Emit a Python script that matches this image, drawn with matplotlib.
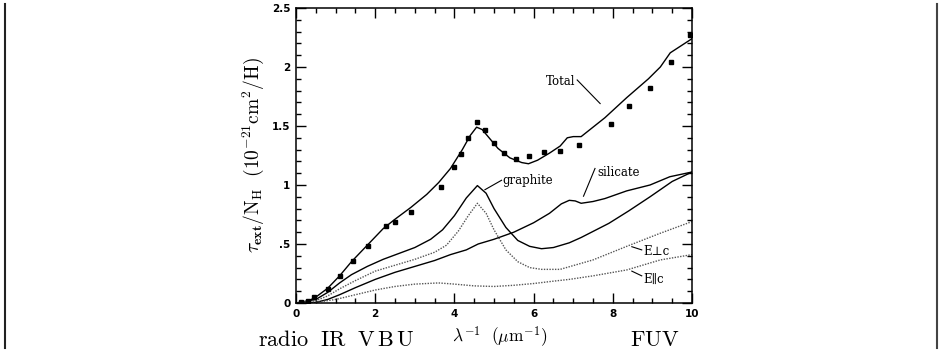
import matplotlib
matplotlib.use("Agg")
import matplotlib.pyplot as plt
from matplotlib.lines import Line2D
from matplotlib.ticker import MultipleLocator, FixedLocator, FixedFormatter

plt.rcParams['mathtext.fontset'] = 'cm'

# observed extinction (squares)
obs_x = [0.12, 0.29, 0.45, 0.80, 1.11, 1.43, 1.82, 2.27, 2.50, 2.91, 3.65,
         4.00, 4.17, 4.35, 4.57, 4.76, 5.00, 5.26, 5.56, 5.88, 6.25, 6.67,
         7.14, 7.95, 8.40, 8.94, 9.46, 9.95]
obs_y = [0.005, 0.02, 0.05, 0.12, 0.23, 0.36, 0.48, 0.65, 0.69, 0.77, 0.98,
         1.155, 1.26, 1.40, 1.53, 1.47, 1.36, 1.27, 1.22, 1.245, 1.28, 1.29,
         1.34, 1.52, 1.67, 1.82, 2.04, 2.27]

# model curves
total_x = [0, 0.3, 0.5, 0.8, 1.1, 1.4, 1.8, 2.2, 2.5, 2.9, 3.3, 3.6, 3.9, 4.2,
           4.4, 4.56, 4.7, 4.9, 5.1, 5.4, 5.7, 5.87, 6.1, 6.4, 6.67, 6.85, 7.0,
           7.2, 7.5, 7.8, 8.35, 8.9, 9.2, 9.45, 10.0]
total_y = [0, 0.015, 0.05, 0.125, 0.23, 0.35, 0.49, 0.63, 0.71, 0.81, 0.92,
           1.02, 1.14, 1.30, 1.42, 1.49, 1.47, 1.39, 1.31, 1.23, 1.19, 1.18,
           1.21, 1.27, 1.33, 1.40, 1.41, 1.41, 1.49, 1.57, 1.74, 1.90, 2.00,
           2.12, 2.24]

graph_x = [0, 0.5, 0.8, 1.1, 1.4, 1.8, 2.2, 2.6, 3.0, 3.4, 3.7, 4.0, 4.3,
           4.58, 4.8, 5.0, 5.3, 5.6, 5.9, 6.2, 6.5, 6.9, 7.2, 7.9, 8.4, 8.94,
           9.5, 10.0]
graph_y = [0, 0.03, 0.09, 0.17, 0.24, 0.31, 0.37, 0.42, 0.47, 0.54, 0.62,
           0.74, 0.89, 0.995, 0.93, 0.80, 0.64, 0.53, 0.48, 0.46, 0.47, 0.51,
           0.555, 0.675, 0.78, 0.90, 1.03, 1.11]

sil_x = [0, 0.5, 0.8, 1.1, 1.5, 2.0, 2.5, 3.0, 3.5, 3.9, 4.3, 4.6, 5.0, 5.5,
         6.0, 6.4, 6.7, 6.9, 7.05, 7.2, 7.5, 7.8, 8.35, 8.94, 9.44, 10.0]
sil_y = [0, 0.005, 0.03, 0.07, 0.13, 0.20, 0.26, 0.31, 0.36, 0.41, 0.45, 0.50,
         0.54, 0.60, 0.68, 0.76, 0.84, 0.87, 0.865, 0.845, 0.86, 0.885, 0.95,
         1.00, 1.07, 1.11]

perp_x = [0, 0.5, 0.8, 1.1, 1.5, 2.0, 2.5, 3.0, 3.5, 3.8, 4.1, 4.35, 4.58,
          4.8, 5.0, 5.3, 5.6, 5.9, 6.2, 6.67, 7.5, 8.35, 9.19, 10.0]
perp_y = [0, 0.02, 0.06, 0.12, 0.19, 0.27, 0.32, 0.37, 0.43, 0.49, 0.61, 0.74,
          0.845, 0.76, 0.62, 0.45, 0.35, 0.30, 0.285, 0.285, 0.365, 0.48,
          0.59, 0.69]

par_x = [0, 0.5, 1.0, 1.5, 2.0, 2.5, 3.0, 3.6, 4.0, 4.5, 5.0, 5.5, 6.0, 6.5,
         6.9, 7.5, 8.35, 9.2, 10.0]
par_y = [0, 0.005, 0.03, 0.07, 0.11, 0.14, 0.16, 0.17, 0.16, 0.145, 0.14,
         0.15, 0.165, 0.185, 0.20, 0.23, 0.28, 0.365, 0.41]

ytick_vals = [0, 0.5, 1, 1.5, 2, 2.5]
ytick_labels = ['0', '.5', '1', '1.5', '2', '2.5']
xtick_vals = [0, 2, 4, 6, 8, 10]

fig = plt.figure(figsize=(9.41, 3.55), dpi=100)
ax = fig.add_axes([0.3146, 0.1465, 0.4208, 0.831])

lw = 1.0
ax.plot(total_x, total_y, color='black', lw=lw)
ax.plot(graph_x, graph_y, color='black', lw=lw)
ax.plot(sil_x, sil_y, color='black', lw=lw)
ax.plot(perp_x, perp_y, color='#555555', lw=1.0, ls=(0, (1, 1)))
ax.plot(par_x, par_y, color='#555555', lw=1.0, ls=(0, (1, 1)))
ax.plot(obs_x, obs_y, 's', color='black', markersize=3.4)

ax.set_xlim(0, 10)
ax.set_ylim(0, 2.5)
ax.xaxis.set_major_locator(FixedLocator(xtick_vals))
ax.xaxis.set_minor_locator(MultipleLocator(0.5))
ax.yaxis.set_major_locator(FixedLocator(ytick_vals))
ax.yaxis.set_major_formatter(FixedFormatter(ytick_labels))
ax.yaxis.set_minor_locator(MultipleLocator(0.1))
ax.tick_params(which='both', direction='in', top=True, right=True, width=1.0)
ax.tick_params(which='major', length=7, labelsize=7.5, pad=4)
ax.tick_params(which='minor', length=3.5)
for lab in ax.get_xticklabels() + ax.get_yticklabels():
    lab.set_fontweight('bold')
for sp in ax.spines.values():
    sp.set_linewidth(1.1)

ax.set_ylabel(r'$\tau_{\mathsf{\bf ext}}/\mathrm{N_H}\ \ (\mathrm{10^{-21}cm^2/H})$',
              fontsize=14, labelpad=4)

# annotations
lab_font = dict(family='DejaVu Serif', fontsize=8.5)
ax.text(6.3, 1.88, 'Total', va='center', ha='left', **lab_font)
ax.plot([7.10, 7.68], [1.89, 1.69], color='black', lw=0.8)
ax.text(5.2, 1.035, 'graphite', va='center', ha='left', **lab_font)
ax.plot([5.19, 4.77], [1.04, 0.96], color='black', lw=0.8)
ax.text(7.6, 1.11, 'silicate', va='center', ha='left', **lab_font)
ax.plot([7.55, 7.26], [1.14, 0.905], color='black', lw=0.8)
ax.text(8.77, 0.44, 'E\u22a5c', va='center', ha='left', **lab_font)
ax.plot([8.73, 8.48], [0.45, 0.477], color='black', lw=0.8)
ax.text(8.77, 0.20, 'E\u2225c', va='center', ha='left', **lab_font)
ax.plot([8.73, 8.48], [0.23, 0.27], color='black', lw=0.8)

# band labels under the axis
fig.text(258 / 941, 1 - 340 / 355, r'$\mathrm{radio\ \ IR\ \ V\,B\,U}$',
         fontsize=16, ha='left', va='center')
fig.text(500 / 941, 1 - 337 / 355, r'$\mathsf{\lambda^{-1}}\ \ (\mu\mathrm{m}^{-1})$',
         fontsize=12.5, ha='center', va='center')
fig.text(630 / 941, 1 - 340 / 355, r'$\mathrm{FUV}$',
         fontsize=16, ha='left', va='center')

# table borders
fig.add_artist(Line2D([4.5 / 941, 4.5 / 941], [1 - 4 / 355, 1 - 348 / 355],
                      color='#222222', lw=1.5))
fig.add_artist(Line2D([936.5 / 941, 936.5 / 941], [1 - 4 / 355, 1 - 348 / 355],
                      color='#444444', lw=1.5))

fig.savefig('out.png', dpi=100)
